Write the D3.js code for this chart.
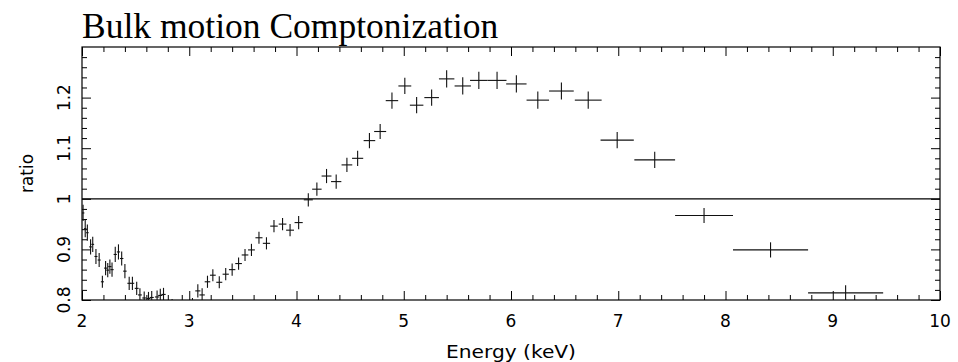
<!DOCTYPE html>
<html><head><meta charset="utf-8">
<script src="https://cdn.jsdelivr.net/npm/d3@7/dist/d3.min.js"></script>
<style>body{margin:0;background:#fff}</style>
</head><body>
<svg id="c" width="958" height="362"></svg>
<script>
// ---- data ----
const energy = [
  2.01,2.03,2.05,2.08,2.10,2.13,2.16,2.19,2.22,2.24,2.26,2.28,2.31,2.34,2.37,2.40,2.44,2.47,2.51,2.54,2.58,2.62,2.65,2.70,2.73,2.76,
  2.84,2.935,3.03,
  3.08,3.12,3.17,3.22,3.28,3.34,3.40,3.46,3.52,3.58,3.65,3.72,3.79,3.87,3.94,4.02,
  4.11,4.19,4.28,4.37,4.47,4.57,4.68,4.78,4.89,5.01,5.12,5.26,5.40,5.55,5.70,5.87,6.05,6.25,6.47,6.72,6.99,7.34,7.80,8.42,9.12
];
const ratio = [
  0.972,0.941,0.933,0.905,0.910,0.886,0.879,0.836,0.863,0.859,0.866,0.860,0.890,0.895,0.882,0.857,0.833,0.833,0.823,0.810,0.804,0.803,0.805,0.806,0.809,0.811,
  0.787,0.795,0.790,
  0.818,0.810,0.836,0.849,0.835,0.851,0.860,0.872,0.889,0.899,0.923,0.912,0.946,0.950,0.938,0.953,
  0.998,1.019,1.045,1.034,1.067,1.080,1.115,1.133,1.194,1.223,1.185,1.200,1.237,1.223,1.234,1.234,1.227,1.195,1.213,1.195,1.116,1.077,0.967,0.899,0.814
];
const energyErr = [
  0.012,0.012,0.012,0.013,0.013,0.014,0.014,0.014,0.014,0.014,0.015,0.015,0.015,0.015,0.016,0.016,0.017,0.017,0.018,0.018,0.018,0.019,0.019,0.020,0.020,0.020,
  0.021,0.022,0.023,
  0.024,0.025,0.026,0.027,0.028,0.029,0.030,0.031,0.031,0.032,0.033,0.034,0.035,0.036,0.037,0.038,
  0.042,0.044,0.046,0.048,0.050,0.052,0.054,0.056,0.058,0.060,0.063,0.068,0.072,0.076,0.082,0.088,0.095,0.105,0.115,0.125,0.155,0.190,0.270,0.350,0.350
];
const ratioErr = [
  0.016,0.017,0.016,0.015,0.015,0.015,0.014,0.012,0.014,0.014,0.014,0.014,0.015,0.015,0.014,0.014,0.013,0.013,0.013,0.013,0.013,0.013,0.013,0.013,0.013,0.013,
  0.015,0.015,0.014,
  0.013,0.013,0.012,0.012,0.012,0.012,0.012,0.012,0.012,0.012,0.012,0.012,0.012,0.012,0.012,0.013,
  0.013,0.013,0.014,0.014,0.014,0.015,0.015,0.015,0.016,0.016,0.016,0.016,0.017,0.017,0.017,0.017,0.017,0.017,0.017,0.017,0.016,0.016,0.015,0.015,0.015
];
const xMajorTicks = [2,3,4,5,6,7,8,9,10];
const xTickLabels = ["2","3","4","5","6","7","8","9","10"];
const yMajorTicks = [0.8,0.9,1.0,1.1,1.2];
const yTickLabels = ["0.8","0.9","1","1.1","1.2"];
const titleText = "Bulk motion Comptonization";
const xLabel = "Energy (keV)";
const yLabel = "ratio";
const refLevel = 1.0;

// ---- drawing ----
const L = 82, R = 940, T = 47, B = 300;
const svg = d3.select('#c');
const x = d3.scaleLinear().domain([2,10]).range([L,R]);
const y = d3.scaleLinear().domain([0.8,1.3]).range([B,T]);
const xMinor = d3.range(2,10.001,0.2).filter(v=>Math.abs(v-Math.round(v))>1e-6);
const yMinor = d3.range(0.8,1.3001,0.02).filter(v=>Math.abs(v*10-Math.round(v*10))>1e-6);

const font = "DejaVu Sans, sans-serif";
const ink = "#000";

svg.append("defs").append("clipPath").attr("id","clip")
  .append("rect").attr("x",L).attr("y",T).attr("width",R-L).attr("height",B-T);

function axisG(axis, tx, ty){
  const g = svg.append("g").attr("transform",`translate(${tx},${ty})`).call(axis);
  g.select(".domain").remove();
  g.selectAll("line").attr("stroke",ink).attr("stroke-width",1);
  return g;
}
axisG(d3.axisBottom(x).tickValues(xMajorTicks).tickSize(-9).tickFormat(""),0,B);
axisG(d3.axisBottom(x).tickValues(xMinor).tickSize(-5).tickFormat(""),0,B);
axisG(d3.axisTop(x).tickValues(xMajorTicks).tickSize(-9).tickFormat(""),0,T);
axisG(d3.axisTop(x).tickValues(xMinor).tickSize(-5).tickFormat(""),0,T);
axisG(d3.axisLeft(y).tickValues(yMajorTicks).tickSize(-9).tickFormat(""),L,0);
axisG(d3.axisLeft(y).tickValues(yMinor).tickSize(-5).tickFormat(""),L,0);
axisG(d3.axisRight(y).tickValues(yMajorTicks).tickSize(-9).tickFormat(""),R,0);
axisG(d3.axisRight(y).tickValues(yMinor).tickSize(-5).tickFormat(""),R,0);

svg.append("rect").attr("x",L).attr("y",T).attr("width",R-L).attr("height",B-T)
  .attr("fill","none").attr("stroke",ink).attr("stroke-width",1.2);

svg.append("g").selectAll("text").data(xMajorTicks).join("text")
  .attr("x",d=>x(d)).attr("y",327)
  .attr("text-anchor","middle").attr("font-family",font).attr("font-size",17)
  .attr("fill",ink).text((d,i)=>xTickLabels[i]);

svg.append("g").selectAll("text").data(yMajorTicks).join("text")
  .attr("transform",d=>`translate(70,${y(d)}) rotate(-90)`)
  .attr("text-anchor","middle").attr("font-family",font).attr("font-size",17)
  .attr("fill",ink).text((d,i)=>yTickLabels[i]);

svg.append("line").attr("x1",x(2)).attr("x2",x(10)).attr("y1",y(refLevel)).attr("y2",y(refLevel))
  .attr("stroke",ink).attr("stroke-width",1.2);

const pts = energy.map((e,i)=>({e, r:ratio[i], dx:energyErr[i], dy:ratioErr[i]}));
const gp = svg.append("g").attr("clip-path","url(#clip)");
gp.selectAll("line.h").data(pts).join("line").attr("class","h")
  .attr("x1",d=>x(d.e-d.dx)).attr("x2",d=>x(d.e+d.dx))
  .attr("y1",d=>y(d.r)).attr("y2",d=>y(d.r))
  .attr("stroke","#111").attr("stroke-width",1.1);
gp.selectAll("line.v").data(pts).join("line").attr("class","v")
  .attr("x1",d=>x(d.e)).attr("x2",d=>x(d.e))
  .attr("y1",d=>y(d.r-d.dy)).attr("y2",d=>y(d.r+d.dy))
  .attr("stroke","#111").attr("stroke-width",1.1);

svg.append("text").attr("x",82).attr("y",38)
  .attr("font-family","Liberation Serif, Times New Roman, serif").attr("font-size",35.5)
  .attr("fill",ink).text(titleText);
svg.append("text").attr("x",(L+R)/2).attr("y",358).attr("text-anchor","middle")
  .attr("font-family",font).attr("font-size",17).attr("fill",ink)
  .attr("textLength",130).attr("lengthAdjust","spacingAndGlyphs").text(xLabel);
svg.append("text").attr("transform",`translate(33,${(T+B)/2}) rotate(-90)`)
  .attr("text-anchor","middle").attr("font-family",font).attr("font-size",17)
  .attr("fill",ink).text(yLabel);
</script>
</body></html>
